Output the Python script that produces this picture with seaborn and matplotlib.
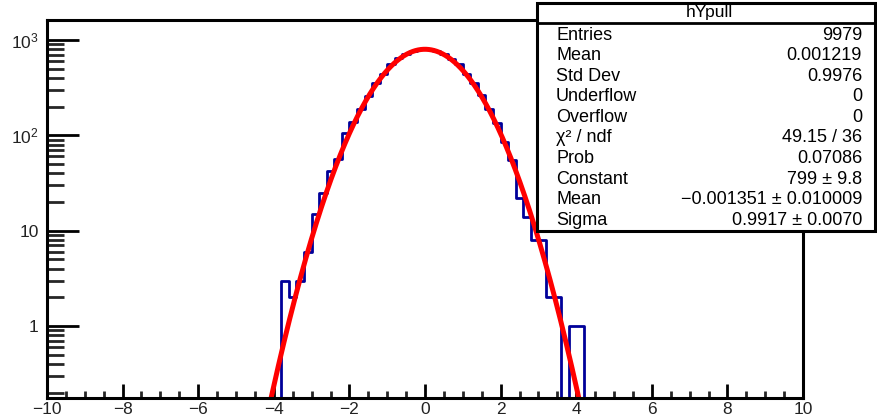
import numpy as np
import pandas as pd
import matplotlib
matplotlib.use("Agg")
import matplotlib.pyplot as plt
import seaborn as sns
from matplotlib.patches import Rectangle
from matplotlib.ticker import FixedLocator, FixedFormatter, NullFormatter

# ---------------- data ----------------
x_min, x_max, n_bins = -10.0, 10.0, 100
# counts of the non-empty region, bins of width 0.2 starting at -3.8
first_bin_low = -3.8
counts_core = [3, 2, 3, 6, 15, 25, 42, 57, 105, 137,
               191, 256, 358, 445, 560, 640, 715, 765, 800,
               805, 770, 715, 635, 555, 440, 350, 265, 190, 135,
               85, 55, 22, 14, 8, 8, 2, 2, 0, 1, 1]
fit_constant, fit_mean, fit_sigma = 799.0, -0.001351, 0.9917
stats_title = "hYpull"
stats_labels = ["Entries", "Mean", "Std Dev", "Underflow", "Overflow",
                "χ² / ndf", "Prob", "Constant", "Mean", "Sigma"]
stats_values = ["9979", "0.001219", "0.9976", "0", "0",
                "49.15 / 36", "0.07086", "799 ± 9.8",
                "−0.001351 ± 0.010009", "0.9917 ± 0.0070"]
x_ticks = [-10, -8, -6, -4, -2, 0, 2, 4, 6, 8, 10]
y_ticks = [1, 10, 100, 1000]
y_tick_labels = ["1", "10", "$10^{2}$", "$10^{3}$"]

# ---------------- build table ----------------
bin_w = (x_max - x_min) / n_bins
edges = np.linspace(x_min, x_max, n_bins + 1)
centers = 0.5 * (edges[:-1] + edges[1:])
counts = np.zeros(n_bins)
start = int(round((first_bin_low - x_min) / bin_w))
counts[start:start + len(counts_core)] = counts_core
df = pd.DataFrame({"x": centers, "w": counts})

# ---------------- style ----------------
sns.set_theme(style="white")
plt.rcParams["font.family"] = ["Liberation Sans", "DejaVu Sans"]
plt.rcParams["mathtext.fontset"] = "custom"
plt.rcParams["mathtext.rm"] = "Liberation Sans"
plt.rcParams["mathtext.it"] = "Liberation Sans"

W, H = 877, 419
fig = plt.figure(figsize=(W / 100, H / 100), dpi=100)
ax = fig.add_axes([47 / W, 1 - 398 / H, (803 - 47) / W, (398 - 20) / H])

sns.histplot(data=df, x="x", weights="w", binwidth=bin_w,
             binrange=(x_min, x_max), element="step",
             fill=False, color="#000099", linewidth=2.0, ax=ax)

xf = np.linspace(x_min, x_max, 2001)
yf = fit_constant * np.exp(-0.5 * ((xf - fit_mean) / fit_sigma) ** 2)
sns.lineplot(x=xf, y=yf, color="#ff0000", linewidth=3.6, ax=ax,
             estimator=None, sort=False)

ax.set_yscale("log")
ax.set_xlim(x_min, x_max)
ax.set_ylim(0.176, 1620)
ax.set_xlabel("")
ax.set_ylabel("")

ax.xaxis.set_major_locator(FixedLocator(x_ticks))
ax.xaxis.set_minor_locator(FixedLocator(np.arange(-10, 10.01, 0.5)))
ax.yaxis.set_major_locator(FixedLocator(y_ticks))
ax.yaxis.set_major_formatter(FixedFormatter(y_tick_labels))
minor_y = [m * 10.0 ** d for d in range(-1, 4) for m in range(2, 10)]
ax.yaxis.set_minor_locator(FixedLocator(minor_y))
ax.yaxis.set_minor_formatter(NullFormatter())

ax.tick_params(axis="x", which="major", direction="in", length=10, width=2,
               labelsize=12.5, pad=3, colors="black", labelcolor="#222222",
               bottom=True, top=False)
ax.tick_params(axis="x", which="minor", direction="in", length=5, width=2,
               bottom=True, top=False)
ax.tick_params(axis="y", which="major", direction="in", length=23, width=2,
               labelsize=12.5, pad=6, colors="black", labelcolor="#222222",
               left=True, right=False)
ax.tick_params(axis="y", which="minor", direction="in", length=12, width=2,
               left=True, right=False)
for s in ax.spines.values():
    s.set_linewidth(2.2)
    s.set_color("black")
    s.set_visible(True)

# ---------------- stats box ----------------
bx0, by0, bx1, by1 = 537, 3, 875, 231
fig.patches.append(Rectangle((bx0 / W, 1 - by1 / H), (bx1 - bx0) / W,
                             (by1 - by0) / H, transform=fig.transFigure,
                             facecolor="white", edgecolor="black",
                             linewidth=2.2, zorder=10))
fig.lines.append(plt.Line2D([bx0 / W, bx1 / W], [1 - 23 / H, 1 - 23 / H],
                            transform=fig.transFigure, color="black",
                            linewidth=2.0, zorder=11))
fig.text(709 / W, 1 - 13 / H, stats_title, ha="center", va="center",
         fontsize=12.5, color="black", zorder=12)
for i, (lab, val) in enumerate(zip(stats_labels, stats_values)):
    yy = 1 - (35 + i * 20.6) / H
    fig.text(556 / W, yy, lab, ha="left", va="center", fontsize=13,
             color="black", zorder=12)
    fig.text(862 / W, yy, val, ha="right", va="center", fontsize=13,
             color="black", zorder=12)

fig.savefig("out.png", dpi=100)
